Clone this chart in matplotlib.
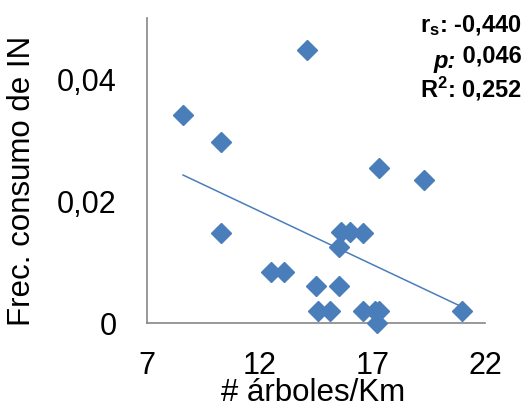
import numpy as np
import matplotlib.pyplot as plt

plt.rcParams['font.family'] = ['Liberation Sans', 'DejaVu Sans']
plt.rcParams['mathtext.fontset'] = 'custom'
plt.rcParams['mathtext.rm'] = 'Liberation Sans'
plt.rcParams['mathtext.bf'] = 'Liberation Sans:bold'
plt.rcParams['mathtext.it'] = 'Liberation Sans:italic'

# trees per km vs. frequency of IN consumption
arboles = [14.1, 8.6, 10.3, 17.3, 19.3, 10.3, 15.6, 16.0, 16.6, 15.5,
           12.5, 13.1, 14.5, 15.5, 14.6, 15.1, 16.6, 17.1, 17.3, 17.2, 21.0]
frec = [0.0448, 0.0341, 0.0297, 0.0254, 0.0234, 0.0148, 0.0149, 0.0149,
        0.0147, 0.0125, 0.0083, 0.0083, 0.0061, 0.0061, 0.0019, 0.0019,
        0.0019, 0.0019, 0.0019, 0.0, 0.0019]
x_ticks = [7, 12, 17, 22]
y_ticks = [0, 0.02, 0.04]
y_ticklabels = ['0', '0,02', '0,04']

blue = '#4a7ebb'

fig = plt.figure(figsize=(5.26, 4.08), dpi=100)
ax = fig.add_axes([0.2795, 0.2083, 0.6425, 0.7475])

ax.plot(arboles, frec, 'D', color=blue, ms=10, mec=blue, clip_on=False, zorder=3)

# linear trend line over the data range
slope, icpt = np.polyfit(arboles, frec, 1)
xs = np.array([min(arboles), max(arboles)])
ax.plot(xs, slope * xs + icpt, color=blue, lw=1.1)

ax.set_xlim(7, 22)
ax.set_ylim(0, 0.05)
ax.set_xticks(x_ticks)
ax.set_xticklabels([str(t) for t in x_ticks])
ax.set_yticks(y_ticks)
ax.set_yticklabels(y_ticklabels)
ax.tick_params(length=0, labelsize=22, pad=20)
ax.tick_params(axis='y', pad=22)

for s in ['top', 'right']:
    ax.spines[s].set_visible(False)
for s in ['left', 'bottom']:
    ax.spines[s].set_color('#868686')
    ax.spines[s].set_linewidth(1.2)

ax.set_xlabel('# árboles/Km', fontsize=22.5)
ax.set_ylabel('Frec. consumo de IN', fontsize=22.5)
ax.xaxis.set_label_coords(0.49, -0.18)
ax.yaxis.set_label_coords(-0.325, 0.466)

# statistics, right aligned in the top corner
fs = 17
fig.text(0.992, 0.9216, r'$\mathbf{r_s}$: -0,440', ha='right', va='baseline',
         fontsize=fs, fontweight='bold')
t2 = fig.text(0.992, 0.8456, ' 0,046', ha='right', va='baseline',
              fontsize=fs, fontweight='bold')
ax.annotate('p:', xy=(0, 0), xycoords=t2, ha='right', va='baseline',
            fontsize=fs, fontweight='bold', fontstyle='italic',
            annotation_clip=False)
fig.text(0.992, 0.7623, r'$\mathbf{R^2}$: 0,252', ha='right', va='baseline',
         fontsize=fs, fontweight='bold')

fig.savefig('out.png', dpi=100)
